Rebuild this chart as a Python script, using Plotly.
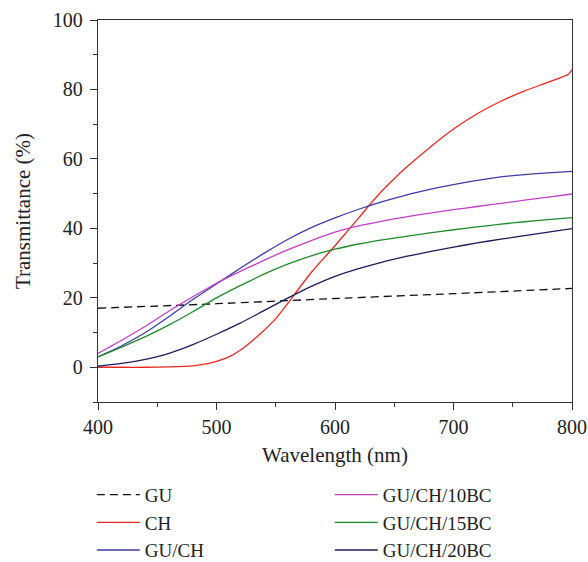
import plotly.graph_objects as go

# Wavelength grids (nm) and transmittance (%) for each film
wl = [400, 420, 440, 460, 480, 500, 520, 540, 560, 580, 600, 620, 640, 660,
      680, 700, 720, 740, 760, 780, 800]

gu_wl = [400, 500, 600, 700, 800]
gu = [17.0, 18.3, 19.8, 21.2, 22.7]

ch_wl = [400, 420, 440, 460, 480, 490, 500, 510, 520, 530, 540, 550, 560, 570,
         580, 590, 600, 610, 620, 630, 640, 650, 660, 680, 700, 720, 740, 760,
         780, 797, 800]
ch = [0.0, 0.0, 0.0, 0.1, 0.4, 0.9, 1.7, 2.9, 4.9, 7.6, 10.6, 14.0, 18.3, 22.9,
      27.3, 31.2, 35.0, 39.0, 43.0, 47.1, 50.9, 54.3, 57.5, 63.3, 68.6, 73.0,
      76.6, 79.6, 82.1, 84.4, 85.7]

gu_ch = [3.0, 6.2, 10.0, 14.6, 19.5, 24.0, 28.5, 32.8, 36.8, 40.2, 43.0, 45.5,
         47.7, 49.6, 51.2, 52.6, 53.8, 54.8, 55.5, 56.0, 56.4]
gu_ch_10 = [4.0, 7.8, 11.8, 16.2, 20.3, 24.2, 27.6, 30.8, 33.8, 36.5, 38.9, 40.7,
            42.1, 43.3, 44.4, 45.4, 46.3, 47.2, 48.1, 49.0, 49.9]
gu_ch_15 = [3.0, 5.8, 8.8, 12.2, 16.0, 20.0, 23.5, 26.8, 29.7, 32.1, 34.0, 35.5,
            36.7, 37.7, 38.7, 39.6, 40.4, 41.2, 41.9, 42.5, 43.1]
gu_ch_20 = [0.3, 1.1, 2.3, 4.0, 6.5, 9.5, 12.7, 16.3, 19.9, 23.3, 26.2, 28.4,
            30.3, 31.9, 33.3, 34.6, 35.8, 36.9, 37.9, 38.9, 39.9]

x_ticks = [400, 500, 600, 700, 800]
y_ticks = [0, 20, 40, 60, 80, 100]

FONT = "Liberation Serif"
LW = 1.3

series = [
    ("GU", gu_wl, gu, "#111111", "dash", "legend"),
    ("CH", ch_wl, ch, "#e8281e", "solid", "legend"),
    ("GU/CH", wl, gu_ch, "#3c3ca8", "solid", "legend"),
    ("GU/CH/10BC", wl, gu_ch_10, "#c43ec4", "solid", "legend2"),
    ("GU/CH/15BC", wl, gu_ch_15, "#1e8a2a", "solid", "legend2"),
    ("GU/CH/20BC", wl, gu_ch_20, "#1c1c5c", "solid", "legend2"),
]

fig = go.Figure()
for name, xs, ys, color, dash, leg in series:
    fig.add_trace(go.Scatter(
        x=xs, y=ys, name=name, mode="lines", legend=leg, legendgroup=name,
        line=dict(color=color, width=LW, dash="8px,5px" if dash == "dash" else dash,
                  shape="spline", smoothing=0.6),
    ))

axis_common = dict(
    showline=True, linecolor="#333333", linewidth=1.3, mirror=True,
    ticks="outside", ticklen=7, tickwidth=1.2, tickcolor="#333333",
    showgrid=False, zeroline=False,
    tickfont=dict(family=FONT, size=20, color="#222222"),
)

fig.update_xaxes(
    range=[400, 800], tickvals=x_ticks,
    minor=dict(ticks="outside", ticklen=4, tickwidth=1.2, tickcolor="#333333", dtick=50, tick0=400),
    title=dict(text="Wavelength (nm)", font=dict(family=FONT, size=21, color="#222222"), standoff=10),
    **axis_common,
)
fig.update_yaxes(
    range=[-10, 100], tickvals=y_ticks, ticklabelstandoff=3,
    minor=dict(ticks="outside", ticklen=4, tickwidth=1.2, tickcolor="#333333", dtick=10, tick0=0),
    title=dict(text="Transmittance (%)", font=dict(family=FONT, size=21, color="#222222"), standoff=16),
    **axis_common,
)

legend_common = dict(
    orientation="v", xanchor="left", yanchor="top", bgcolor="rgba(0,0,0,0)",
    font=dict(family=FONT, size=19, color="#222222"),
    tracegroupgap=0, traceorder="grouped", itemwidth=43,
)

fig.update_layout(
    width=588, height=562,
    margin=dict(l=98, r=16, t=20, b=160, autoexpand=False),
    plot_bgcolor="white", paper_bgcolor="white",
    legend=dict(x=-0.013, y=-0.193, **legend_common),
    legend2=dict(x=0.489, y=-0.193, **legend_common),
)

fig.write_html("out.html")
